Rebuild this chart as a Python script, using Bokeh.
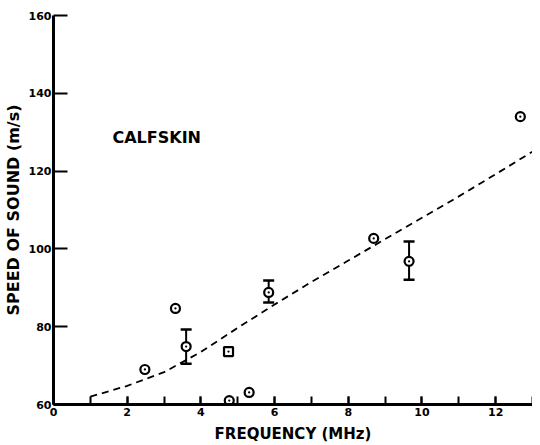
from bokeh.plotting import figure
from bokeh.models import Range1d, SingleIntervalTicker, FixedTicker
from bokeh.core.properties import value
from bokeh.embed import file_html
from bokeh.resources import INLINE

# plain data points (circles)
pt_x = [2.48, 3.31, 4.77, 5.31, 8.69, 12.67]
pt_y = [69.0, 84.7, 61.0, 63.1, 102.7, 134.0]

# square point
sq_x = [4.75]
sq_y = [73.6]

# points with error bars
eb_x = [3.6, 5.84, 9.65]
eb_y = [74.9, 88.8, 96.8]
eb_lo = [70.5, 86.2, 92.1]
eb_hi = [79.3, 91.9, 101.9]

# dashed trend curve
fit_x = [1, 2, 3, 4, 5, 6, 7, 8, 9, 10, 11, 12, 13]
fit_y = [62.0, 64.8, 68.3, 73.5, 79.7, 85.7, 91.5, 97.0, 102.5, 108.0, 113.5, 119.2, 125.0]

y_ticks = [60, 80, 100, 120, 140, 160]
label_text = ["CALFSKIN"]
label_x = [1.6]
label_y = [128.6]

FONT = "DejaVu Sans"

p = figure(width=532, height=445, output_backend="svg", toolbar_location=None,
           x_range=Range1d(0, 13), y_range=Range1d(60, 160),
           min_border_left=44, min_border_right=0, min_border_top=15, min_border_bottom=41)
p.outline_line_color = None
p.xgrid.visible = False
p.ygrid.visible = False
p.background_fill_color = "white"

ax = p.xaxis[0]
ax.ticker = SingleIntervalTicker(interval=2, num_minor_ticks=2)
ax.axis_line_width = 3
ax.axis_line_color = "black"
ax.major_tick_in = 8
ax.major_tick_out = 0
ax.minor_tick_in = 8
ax.minor_tick_out = 0
ax.major_tick_line_width = 2
ax.minor_tick_line_width = 2
ax.major_label_standoff = 3
ax.major_label_text_font = FONT
ax.major_label_text_font_style = "bold"
ax.major_label_text_font_size = "11px"
ax.major_label_text_color = "black"
ax.axis_label = "FREQUENCY (MHz)"
ax.axis_label_text_font = FONT
ax.axis_label_text_font_style = "bold"
ax.axis_label_text_font_size = "15px"
ax.axis_label_text_color = "black"
ax.axis_label_standoff = 6

ay = p.yaxis[0]
ay.ticker = FixedTicker(ticks=y_ticks)
ay.axis_line_width = 3
ay.axis_line_color = "black"
ay.major_tick_in = 14
ay.major_tick_out = 0
ay.minor_tick_in = 0
ay.minor_tick_out = 0
ay.major_tick_line_width = 2
ay.major_label_standoff = 2
ay.major_label_text_font = FONT
ay.major_label_text_font_style = "bold"
ay.major_label_text_font_size = "11px"
ay.major_label_text_color = "black"
ay.axis_label = "SPEED OF SOUND (m/s)"
ay.axis_label_text_font = FONT
ay.axis_label_text_font_style = "bold"
ay.axis_label_text_font_size = "16px"
ay.axis_label_text_color = "black"
ay.axis_label_standoff = 3

# dashed curve
p.line(fit_x, fit_y, line_color="black", line_width=1.8, line_dash="7 5")

# error bars
p.segment(x0=eb_x, y0=eb_lo, x1=eb_x, y1=eb_hi, line_color="black", line_width=2)
p.scatter(eb_x, eb_lo, marker="dash", size=11, line_color="black", line_width=2.5)
p.scatter(eb_x, eb_hi, marker="dash", size=11, line_color="black", line_width=2.5)

# points
all_cx = pt_x + eb_x
all_cy = pt_y + eb_y
p.scatter(all_cx, all_cy, marker="circle_dot", size=9, line_color="black",
          line_width=2.2, fill_color="white")
p.scatter(sq_x, sq_y, marker="square_dot", size=9, line_color="black",
          line_width=2.2, fill_color="white")

p.text(x=label_x, y=label_y, text=label_text, text_font=value(FONT),
       text_font_style="bold", text_font_size="16px", text_baseline="middle",
       text_align="left", text_color="black")

open("out.html", "w").write(file_html(p, INLINE))
